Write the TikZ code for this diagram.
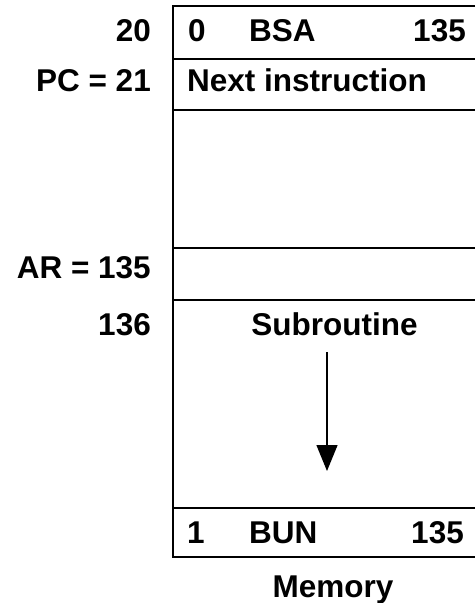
\documentclass[tikz,border=0pt]{standalone}
\usepackage{fontspec}
\setmainfont{Liberation Sans}
\usetikzlibrary{arrows.meta, positioning}
\tikzstyle{lbl} = [font=\bfseries\fontsize{31.5}{36}\selectfont, inner sep=0pt]
\tikzstyle{addr} = [lbl, anchor=base east]
\tikzstyle{field} = [lbl, anchor=base west]
\tikzstyle{wall} = [line width=1.7pt]

\begin{document}
\begin{tikzpicture}[x=1pt, y=-1pt, >={Triangle[width=21pt,length=26pt]}]
    \useasboundingbox (0,0) rectangle (475,603);
    % memory words, right side runs off the page
    \draw [wall] (475,6) -- (173,6) -- (173,557) -- (475,557);
    \foreach \y in {59,110,248,300,508}
        \draw [wall] (173,\y) -- (475,\y);
    \node [addr] (a20) at (151,41) {20};
    \node [addr] (pc) at (151,91) {PC = 21};
    \node [addr] (ar) at (151,278) {AR = 135};
    \node [addr] (a136) at (151,335) {136};
    \node [field] (ind0) at (188,41) {0};
    \node [field] (bsa) at (249,41) {BSA};
    \node [lbl, anchor=base east] (bsaadr) at (466,41) {135};
    \node [field] (next) at (187,91) {Next instruction};
    \node [lbl, anchor=base] (sub) at (334.5,335) {Subroutine};
    \node [field] (ind1) at (187,543) {1};
    \node [field] (bun) at (249,543) {BUN};
    \node [lbl, anchor=base east] (bunadr) at (464,543) {135};
    \node [lbl, anchor=base] (mem) at (333,597) {Memory};
    \coordinate (flowtop) at (327,352);
    \coordinate (flowend) at (327,471);
    \draw [->, line width=1.3pt] (flowtop) -- (flowend);
\end{tikzpicture}
\end{document}
